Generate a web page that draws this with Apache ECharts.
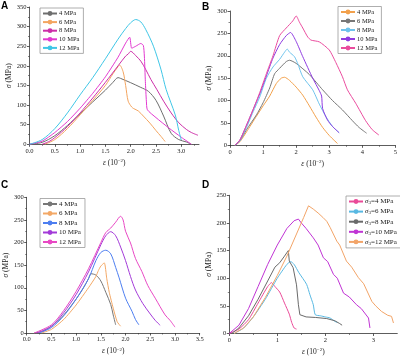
<!DOCTYPE html>
<html>
<head>
<meta charset="utf-8">
<script src="https://cdn.jsdelivr.net/npm/echarts@6/dist/echarts.min.js"></script>
<style>
  html, body { margin: 0; padding: 0; background: #fff; }
  #chart { width: 400px; height: 357px; }
</style>
</head>
<body>
<div id="chart"></div>
<script>
// panel A: strain (10^-2), stress (MPa)
const a4 = [[0,0],[0.25,5],[0.5,22],[0.75,48],[1.0,78],[1.25,108],[1.5,138],[1.65,158],[1.75,170],[1.8,168],[2.0,157],[2.2,145],[2.35,135],[2.5,112],[2.65,72],[2.8,28],[2.95,12],[3.1,6],[3.2,0]]
const a6 = [[0.3,0],[0.5,12],[0.75,40],[1.0,75],[1.25,112],[1.5,150],[1.65,180],[1.75,198],[1.78,202],[1.85,185],[1.9,150],[1.95,110],[2.02,95],[2.06,91],[2.15,85],[2.25,72],[2.38,54],[2.5,35],[2.6,20],[2.68,7]]
const a8 = [[0.25,0],[0.4,8],[0.5,17],[0.75,45],[1.0,80],[1.25,118],[1.5,158],[1.75,200],[1.9,225],[1.95,230],[2.0,237],[2.1,226],[2.2,212],[2.3,190],[2.4,165],[2.52,139],[2.65,110],[2.8,80],[2.95,55],[3.1,38],[3.2,30],[3.33,23]]
const a10 = [[0,0],[0.25,8],[0.5,30],[0.75,58],[1.0,92],[1.25,130],[1.5,172],[1.75,222],[1.9,258],[1.98,273],[2.02,245],[2.1,250],[2.2,257],[2.25,252],[2.27,225],[2.29,160],[2.31,110],[2.33,88],[2.5,68],[2.75,42],[3.0,18],[3.2,0]]
const a12 = [[0,0],[0.25,12],[0.5,40],[0.75,80],[1.0,126],[1.25,170],[1.5,218],[1.75,268],[1.9,295],[2.0,310],[2.1,318],[2.2,312],[2.3,292],[2.45,250],[2.6,190],[2.7,140],[2.88,75],[2.95,35],[3.0,11]]

// panel B
const b4 = [[0.15,0],[0.3,8],[0.5,30],[0.8,65],[1.0,88],[1.2,110],[1.4,138],[1.55,150],[1.65,152],[1.8,145],[2.0,130],[2.2,112],[2.4,88],[2.6,63],[2.8,40],[3.0,22],[3.15,11],[3.25,4]]
const b6 = [[0.15,0],[0.3,10],[0.5,35],[0.8,68],[1.0,95],[1.2,128],[1.35,160],[1.5,172],[1.7,187],[1.8,190],[2.0,183],[2.4,158],[2.8,124],[3.1,100],[3.4,79],[3.7,55],[3.9,40],[4.13,27]]
const b8 = [[0.15,0],[0.3,10],[0.5,40],[0.7,75],[0.9,108],[1.1,150],[1.3,175],[1.5,192],[1.65,208],[1.73,215],[1.8,208],[1.95,198],[2.05,182],[2.2,153],[2.5,124],[2.7,92],[2.9,64],[3.1,42],[3.3,28]]
const b10 = [[0.15,0],[0.3,12],[0.5,45],[0.7,80],[0.9,115],[1.1,155],[1.3,195],[1.5,225],[1.7,245],[1.83,252],[2.0,232],[2.2,198],[2.5,150],[2.7,122],[2.77,110],[2.8,82],[2.95,56],[3.1,42],[3.3,28]]
const b12 = [[0.15,0],[0.3,12],[0.5,45],[0.7,80],[0.9,118],[1.1,160],[1.3,200],[1.5,245],[1.7,262],[1.9,278],[2.0,289],[2.1,275],[2.2,262],[2.35,242],[2.45,235],[2.7,231],[3.0,213],[3.2,185],[3.4,153],[3.55,124],[3.8,94],[4.1,55],[4.3,35],[4.5,23]]

// panel C
const c4 = [[0.15,0],[0.3,3],[0.5,15],[0.75,40],[1.0,75],[1.15,100],[1.25,120],[1.3,131],[1.4,128],[1.5,115],[1.6,90],[1.7,63],[1.75,40],[1.8,18]]
const c6 = [[0.3,0],[0.5,8],[0.75,30],[1.0,62],[1.25,100],[1.4,125],[1.45,138],[1.5,148],[1.57,155],[1.62,120],[1.67,90],[1.75,55],[1.83,25],[1.9,15]]
const c8 = [[0.25,0],[0.5,12],[0.75,38],[1.0,75],[1.25,120],[1.4,160],[1.5,178],[1.6,183],[1.7,175],[1.8,145],[1.87,122],[2.0,77],[2.13,48],[2.2,30],[2.27,18]]
const c10 = [[0.2,0],[0.5,15],[0.75,45],[1.0,85],[1.25,135],[1.5,195],[1.6,215],[1.7,224],[1.8,215],[1.9,190],[2.0,160],[2.1,125],[2.2,95],[2.35,65],[2.5,42],[2.6,28],[2.7,17]]
const c12 = [[0.15,0],[0.5,18],[0.75,50],[1.0,92],[1.25,142],[1.5,200],[1.6,222],[1.7,232],[1.8,245],[1.9,258],[1.95,250],[2.0,225],[2.1,199],[2.2,165],[2.33,136],[2.45,105],[2.6,77],[2.8,40],[2.9,28],[3.0,13]]

// panel D
const d4 = [[0,0],[0.2,8],[0.4,25],[0.6,55],[0.8,85],[0.88,92],[0.95,85],[1.05,75],[1.15,55],[1.25,35],[1.3,20],[1.35,10],[1.4,8]]
const d6 = [[0.1,0],[0.3,10],[0.5,30],[0.75,62],[1.0,100],[1.2,125],[1.28,130],[1.35,125],[1.45,110],[1.61,89],[1.68,70],[1.75,52],[1.79,34],[1.9,32],[2.0,30],[2.1,28],[2.2,22],[2.25,20]]
const d8 = [[0.05,0],[0.2,10],[0.4,32],[0.6,62],[0.8,95],[0.95,120],[1.05,128],[1.15,140],[1.23,150],[1.25,131],[1.33,119],[1.4,88],[1.44,52],[1.47,34],[1.6,30],[1.8,29],[2.03,27],[2.2,23],[2.3,18],[2.35,15]]
const d10 = [[0,0],[0.2,15],[0.4,45],[0.6,85],[0.8,125],[1.0,160],[1.2,190],[1.35,204],[1.44,207],[1.5,200],[1.6,190],[1.75,173],[1.85,160],[1.96,137],[2.05,130],[2.17,107],[2.25,100],[2.38,73],[2.5,66],[2.65,52],[2.75,45],[2.9,28],[2.93,10]]
const d12 = [[0.1,0],[0.3,10],[0.5,30],[0.75,65],[1.0,105],[1.2,140],[1.4,180],[1.55,210],[1.65,231],[1.75,225],[1.85,218],[1.95,210],[2.03,203],[2.1,192],[2.24,167],[2.3,160],[2.44,131],[2.55,120],[2.69,101],[2.8,90],[2.97,58],[3.05,50],[3.17,40],[3.3,33],[3.38,31],[3.42,19]]

const serif = 'Liberation Serif'
const chart = echarts.init(document.getElementById('chart'))

function xAxis(grid, max, interval, ticks, digits) {
  return {
    type: 'value', gridIndex: grid, min: 0, max: max, interval: interval,
    name: '{i|ε} (10{s|−2})', nameLocation: 'middle', nameGap: 14,
    nameTextStyle: { fontFamily: serif, fontSize: 7.5, color: '#222', rich: {
      i: { fontStyle: 'italic', fontFamily: serif, fontSize: 7.5 },
      s: { fontFamily: serif, fontSize: 5, verticalAlign: 'top', padding: [0, 0, 4, 0] }
    } },
    axisLine: { lineStyle: { color: '#333', width: 0.8 } },
    axisTick: { length: 2.5, lineStyle: { width: 0.8 }, customValues: ticks },
    minorTick: { show: true, splitNumber: 2, length: 1.5, lineStyle: { color: '#333', width: 0.6 } },
    axisLabel: { fontFamily: serif, fontSize: 6.5, color: '#222', margin: 3, customValues: ticks,
      formatter: v => v.toFixed(digits) },
    splitLine: { show: false }
  }
}

function yAxis(grid, max) {
  return {
    type: 'value', gridIndex: grid, min: 0, max: max, interval: 50,
    name: '{i|σ} (MPa)', nameLocation: 'middle', nameGap: 16,
    nameTextStyle: { fontFamily: serif, fontSize: 7.5, color: '#222', rich: {
      i: { fontStyle: 'italic', fontFamily: serif, fontSize: 7.5 }
    } },
    axisLine: { show: true, lineStyle: { color: '#333', width: 0.8 } },
    axisTick: { show: true, length: 2.5, lineStyle: { width: 0.8 } },
    minorTick: { show: true, splitNumber: 2, length: 1.5, lineStyle: { color: '#333', width: 0.6 } },
    axisLabel: { fontFamily: serif, fontSize: 6.5, color: '#222', margin: 3 },
    splitLine: { show: false }
  }
}

function line(name, data, color, idx, smooth) {
  return {
    name: name, type: 'line', data: data, xAxisIndex: idx, yAxisIndex: idx,
    symbol: 'none', smooth: smooth,
    lineStyle: { color: color, width: 1 }, itemStyle: { color: color },
    animation: false
  }
}

function legend(names, left, top, gap, size) {
  return {
    orient: 'vertical', left: left, top: top, data: names,
    itemWidth: 14, itemHeight: 6, itemGap: gap,
    padding: [2, 4, 2, 2], borderColor: '#999', borderWidth: 0.8,
    formatter: n => n.slice(1),
    textStyle: { fontFamily: serif, fontSize: size, color: '#222', padding: [0, 0, 0, -3] }
  }
}

const legendD = legend(['D4 MPa', 'D6 MPa', 'D8 MPa', 'D10 MPa', 'D12 MPa'], 346, 196, 2.6, 7)
legendD.formatter = n => '{i|σ}{s|3}{t|=' + n.slice(1) + '}'
legendD.textStyle.rich = {
  i: { fontStyle: 'italic', fontFamily: serif, fontSize: 7 },
  s: { fontFamily: serif, fontSize: 5, verticalAlign: 'bottom', padding: [3, 0, 0, 0] },
  t: { fontFamily: serif, fontSize: 7 }
}

const letter = (t, x, y) => ({ type: 'text', left: x, top: y, style: { text: t, font: 'bold 10px Liberation Sans', fill: '#000' } })

chart.setOption({
  backgroundColor: '#fff',
  animation: false,
  grid: [
    { left: 29.5, top: 7, width: 169.5, height: 137.3 },
    { left: 230, top: 11, width: 166.5, height: 134.3 },
    { left: 26.7, top: 197.3, width: 173, height: 135.7 },
    { left: 229.3, top: 195.3, width: 168, height: 138.4 }
  ],
  xAxis: [
    xAxis(0, 3.35, 0.5, [0, 0.5, 1, 1.5, 2, 2.5, 3], 1),
    xAxis(1, 5, 1, [0, 1, 2, 3, 4, 5], 0),
    xAxis(2, 3.5, 0.5, [0, 0.5, 1, 1.5, 2, 2.5, 3, 3.5], 1),
    xAxis(3, 3.5, 1, [0, 1, 2, 3], 0)
  ],
  yAxis: [yAxis(0, 350), yAxis(1, 300), yAxis(2, 300), yAxis(3, 250)],
  legend: [
    legend(['A4 MPa', 'A6 MPa', 'A8 MPa', 'A10 MPa', 'A12 MPa'], 40, 8, 1.6, 6.5),
    legend(['B4 MPa', 'B6 MPa', 'B8 MPa', 'B10 MPa', 'B12 MPa'], 338, 6.5, 2, 6.5),
    legend(['C4 MPa', 'C6 MPa', 'C8 MPa', 'C10 MPa', 'C12 MPa'], 40, 198.5, 2.5, 7),
    legendD
  ],
  graphic: [letter('A', 1, 1), letter('B', 202, 2), letter('C', 1, 180), letter('D', 202, 180)],
  series: [
    line('A4 MPa', a4, '#6e6e6e', 0, 0.3),
    line('A6 MPa', a6, '#f3a560', 0, 0.3),
    line('A8 MPa', a8, '#cc2fa8', 0, 0.3),
    line('A10 MPa', a10, '#e23ad0', 0, 0.2),
    line('A12 MPa', a12, '#3fc6e6', 0, 0.3),
    line('B4 MPa', b4, '#f2a14c', 1, 0.2),
    line('B6 MPa', b6, '#777777', 1, 0.2),
    line('B8 MPa', b8, '#6fc3ec', 1, 0.2),
    line('B10 MPa', b10, '#8f3ce0', 1, 0.2),
    line('B12 MPa', b12, '#ea4c9e', 1, 0.2),
    line('C4 MPa', c4, '#777777', 2, 0.3),
    line('C6 MPa', c6, '#f3a866', 2, 0.2),
    line('C8 MPa', c8, '#4d7ef0', 2, 0.3),
    line('C10 MPa', c10, '#a33ad8', 2, 0.3),
    line('C12 MPa', c12, '#e848c4', 2, 0.3),
    line('D4 MPa', d4, '#ea4a98', 3, 0.2),
    line('D6 MPa', d6, '#58b8e2', 3, 0.2),
    line('D8 MPa', d8, '#6a6a6a', 3, 0),
    line('D10 MPa', d10, '#c034d4', 3, 0),
    line('D12 MPa', d12, '#f2a468', 3, 0)
  ]
})
</script>
</body>
</html>
